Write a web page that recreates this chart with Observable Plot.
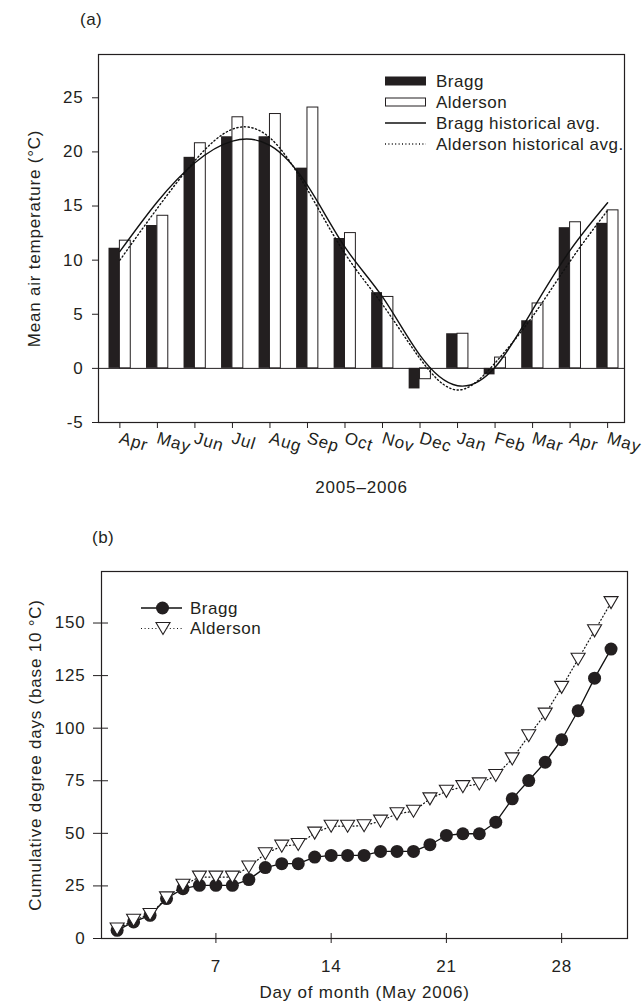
<!DOCTYPE html>
<html><head><meta charset="utf-8">
<script src="https://cdn.jsdelivr.net/npm/d3@7"></script>
<script src="https://cdn.jsdelivr.net/npm/@observablehq/plot@0.6"></script>
<style>
body{margin:0;background:#fff;font-family:"Liberation Sans",Arial,sans-serif;color:#231f20;}
#wrap{position:relative;width:644px;height:1005px;overflow:hidden;}
.pl{position:absolute;left:0;}
.tag{position:absolute;font-size:17px;letter-spacing:0.5px;line-height:1;}
svg.leg{position:absolute;left:0;top:0;overflow:visible;}
</style></head><body><div id="wrap"></div>
<script>
// ---- Panel (a): monthly mean air temperature (°C), Apr 2005 – May 2006
const months = ["Apr","May","Jun","Jul","Aug","Sep","Oct","Nov","Dec","Jan","Feb","Mar","Apr","May"];
const braggMonthly    = [11.1,13.2,19.5,21.4,21.4,18.5,12.0,7.0,-1.9,3.2,-0.6,4.4,13.0,13.4];
const aldersonMonthly = [11.8,14.1,20.8,23.2,23.5,24.1,12.5,6.6,-1.0,3.2,1.0,6.0,13.5,14.6];
const braggHist       = [10.8,15.4,19.0,21.0,20.6,16.9,11.2,6.6,1.2,-1.6,0.1,5.4,10.9,15.3];
const aldersonHist    = [10.0,14.8,19.2,22.1,21.3,16.5,10.6,5.9,0.9,-2.0,0.5,4.8,9.9,14.6];
const yTicksA = [-5,0,5,10,15,20,25];

// ---- Panel (b): cumulative degree days (base 10 °C), May 2006
const days = [1,2,3,4,5,6,7,8,9,10,11,12,13,14,15,16,17,18,19,20,21,22,23,24,25,26,27,28,29,30,31];
const braggCum    = [3.9,7.9,11.0,19.0,23.7,25.3,25.3,25.3,28.0,33.7,35.6,35.6,38.7,39.5,39.5,39.5,41.4,41.4,41.4,44.6,49.0,49.8,49.8,55.3,66.4,75.1,83.8,94.5,108.3,123.8,137.6];
const aldersonCum = [4.5,8.7,11.4,19.3,25.3,29.2,29.2,29.2,34.0,40.3,43.9,44.7,50.1,53.4,53.4,53.6,55.8,59.3,60.5,66.4,70.0,72.2,73.5,77.5,85.4,96.4,106.7,119.4,132.8,146.3,159.7];
const xTicksB = [7,14,21,28];
const yTicksB = [0,25,50,75,100,125,150];

const ink = "#231f20";
const font = "'Liberation Sans', Arial, sans-serif";
const baseStyle = {fontFamily: font, fontSize: "17px", color: ink, background: "white", letterSpacing: "0.8px", overflow: "visible"};
const plain = d => String(d);

const monthData = months.map((m, i) => ({i, m, bragg: braggMonthly[i], alderson: aldersonMonthly[i], bh: braggHist[i], ah: aldersonHist[i]}));
const barW = 0.29;

const plotA = Plot.plot({
  width: 644, height: 525,
  marginTop: 54, marginBottom: 103, marginLeft: 98, marginRight: 20,
  style: baseStyle,
  x: {domain: [-0.57, 13.45]},
  y: {domain: [-5, 29]},
  marks: [
    Plot.rect(monthData, {x1: d => d.i - barW, x2: "i", y1: 0, y2: "bragg", fill: ink}),
    Plot.rect(monthData, {x1: "i", x2: d => d.i + barW, y1: 0, y2: "alderson", fill: "white", stroke: ink, strokeWidth: 1}),
    Plot.ruleY([0], {stroke: ink, strokeWidth: 1}),
    Plot.line(monthData, {x: "i", y: "bh", curve: "natural", stroke: "#111", strokeWidth: 1.4}),
    Plot.line(monthData, {x: "i", y: "ah", curve: "natural", stroke: "#111", strokeWidth: 1.4, strokeDasharray: "1.2,2.6"}),
    Plot.frame({stroke: ink, strokeWidth: 1.2}),
    Plot.axisY({ticks: yTicksA, tickFormat: plain, tickSize: 6, tickPadding: 9, label: null, stroke: ink, fill: ink}),
    Plot.axisX({ticks: monthData.map(d => d.i), tickFormat: i => months[i], tickSize: 6, tickRotate: 17, textAnchor: "start", tickPadding: 9, label: null, stroke: ink, fill: ink}),
    Plot.text(["Mean air temperature (°C)"], {frameAnchor: "left", rotate: -90, dx: -64, textAnchor: "middle", fill: ink}),
    Plot.text(["2005–2006"], {frameAnchor: "bottom", dy: 70, textAnchor: "middle", fill: ink})
  ]
});

const dayData = days.map((d, k) => ({day: d, bragg: braggCum[k], alderson: aldersonCum[k]}));

const triangleDown = {
  draw(context, size) {
    const r = Math.sqrt(size / Math.PI);
    const w = r * 1.08, h = r * 1.85;
    context.moveTo(-w, -h / 2);
    context.lineTo(w, -h / 2);
    context.lineTo(0, h / 2);
    context.closePath();
  }
};

const plotB = Plot.plot({
  width: 644, height: 480,
  marginTop: 46, marginBottom: 67, marginLeft: 101, marginRight: 17,
  style: baseStyle,
  x: {domain: [0.05, 32]},
  y: {domain: [0, 174.5]},
  marks: [
    Plot.frame({stroke: ink, strokeWidth: 1.2}),
    Plot.line(dayData, {x: "day", y: "bragg", stroke: "#111", strokeWidth: 1.3}),
    Plot.dot(dayData, {x: "day", y: "bragg", r: 6.5, fill: ink, stroke: "none"}),
    Plot.line(dayData, {x: "day", y: "alderson", stroke: "#111", strokeWidth: 1.2, strokeDasharray: "1,2.6"}),
    Plot.dot(dayData, {x: "day", y: "alderson", r: 6.5, symbol: triangleDown, fill: "white", stroke: ink, strokeWidth: 1.1}),
    Plot.axisY({ticks: yTicksB, tickFormat: plain, tickSize: 8, tickPadding: 8, label: null, stroke: ink, fill: ink}),
    Plot.axisY({ticks: yTicksB, tickSize: -7, tickFormat: () => "", label: null, stroke: ink}),
    Plot.axisX({ticks: xTicksB, tickFormat: plain, tickSize: 5, tickPadding: 16, label: null, stroke: ink, fill: ink}),
    Plot.axisX({ticks: xTicksB, tickSize: -5, tickFormat: () => "", label: null, stroke: ink}),
    Plot.text(["Cumulative degree days (base 10 °C)"], {frameAnchor: "left", rotate: -90, dx: -66, textAnchor: "middle", fill: ink}),
    Plot.text(["Day of month (May 2006)"], {frameAnchor: "bottom", dy: 59, textAnchor: "middle", fill: ink})
  ]
});

const wrap = document.getElementById("wrap");
plotA.classList.add("pl"); plotA.style.top = "0px";
plotB.classList.add("pl"); plotB.style.top = "525px";
wrap.appendChild(plotA);
wrap.appendChild(plotB);

function tag(txt, x, y) {
  const d = document.createElement("div");
  d.className = "tag"; d.textContent = txt;
  d.style.left = x + "px"; d.style.top = y + "px";
  wrap.appendChild(d);
}
tag("(a)", 80, 11);
tag("(b)", 92, 529);

// Legends
const leg = d3.select(wrap).append("svg").attr("class", "leg").attr("width", 644).attr("height", 1005)
  .style("font-family", font).style("font-size", "17px").style("letter-spacing", "0.5px");

const legA = [
  {label: "Bragg", type: "solidbar"},
  {label: "Alderson", type: "openbar"},
  {label: "Bragg historical avg.", type: "line"},
  {label: "Alderson historical avg.", type: "dotted"}
];
legA.forEach((e, k) => {
  const y = 81 + k * 21;
  const g = leg.append("g");
  if (e.type === "solidbar") g.append("rect").attr("x", 385).attr("y", y - 4.5).attr("width", 41).attr("height", 9).attr("fill", ink);
  if (e.type === "openbar") g.append("rect").attr("x", 385.5).attr("y", y - 4).attr("width", 40).attr("height", 8).attr("fill", "white").attr("stroke", ink);
  if (e.type === "line") g.append("line").attr("x1", 385).attr("x2", 426).attr("y1", y).attr("y2", y).attr("stroke", "#111").attr("stroke-width", 1.4);
  if (e.type === "dotted") g.append("line").attr("x1", 385).attr("x2", 426).attr("y1", y).attr("y2", y).attr("stroke", "#111").attr("stroke-width", 1.3).attr("stroke-dasharray", "1,2.4");
  g.append("text").attr("x", 436).attr("y", y).attr("dy", "0.35em").attr("fill", ink).text(e.label);
});

const legB = [{label: "Bragg", type: "circle"}, {label: "Alderson", type: "tri"}];
legB.forEach((e, k) => {
  const y = 608 + k * 20.5;
  const g = leg.append("g");
  if (e.type === "circle") {
    g.append("line").attr("x1", 141).attr("x2", 182).attr("y1", y).attr("y2", y).attr("stroke", "#111").attr("stroke-width", 1.3);
    g.append("circle").attr("cx", 162.5).attr("cy", y).attr("r", 6.5).attr("fill", ink);
  } else {
    g.append("line").attr("x1", 141).attr("x2", 184).attr("y1", y).attr("y2", y).attr("stroke", "#111").attr("stroke-width", 1.2).attr("stroke-dasharray", "1,2.6");
    g.append("path").attr("d", d3.symbol(triangleDown, 6.5 * 6.5 * Math.PI)()).attr("transform", `translate(163,${y})`).attr("fill", "white").attr("stroke", ink).attr("stroke-width", 1.1);
  }
  g.append("text").attr("x", 190).attr("y", y).attr("dy", "0.35em").attr("fill", ink).text(e.label);
});
</script></body></html>
